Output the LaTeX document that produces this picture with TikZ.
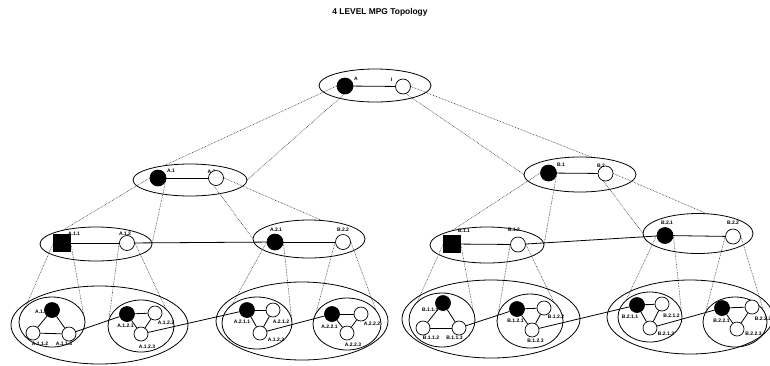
\documentclass[tikz,border=0pt]{standalone}
\usepackage{fontspec}
\setmainfont{Liberation Sans}
\usetikzlibrary{shapes.geometric}
\pgfdeclarelayer{dA}
\pgfdeclarelayer{fB}
\pgfdeclarelayer{dB}
\pgfdeclarelayer{fC}
\pgfdeclarelayer{dC}
\pgfdeclarelayer{fD}
\pgfsetlayers{dA,fB,dB,fC,dC,fD,main}
\tikzset{
  grp/.style={ellipse, draw, line width=0.8pt, inner sep=0pt, outer sep=0pt},
  grpf/.style={grp, fill=white},
  bnL/.style={circle, draw, fill=black, line width=0.7pt, inner sep=0pt, minimum size=16pt},
  wnL/.style={circle, draw, fill=white, line width=0.7pt, inner sep=0pt, minimum size=15pt},
  bn/.style={circle, draw, fill=black, line width=0.7pt, inner sep=0pt, minimum size=15pt},
  wn/.style={circle, draw, fill=white, line width=0.7pt, inner sep=0pt, minimum size=14pt},
  sqn/.style={rectangle, draw, fill=black, inner sep=0pt, minimum size=17pt},
  lbl/.style={font=\fontsize{5}{5}\selectfont\bfseries, inner sep=0pt},
  cone/.style={draw=black!75, line width=0.6pt, dash pattern=on 0.7pt off 0.9pt},
  link/.style={draw, line width=0.8pt},
}
\begin{document}
\begin{tikzpicture}[x=1pt,y=-1pt]
\useasboundingbox (0,0) rectangle (770,365);
\node[font=\fontsize{8.4}{10}\selectfont\bfseries] (title) at (380,12) {4 LEVEL MPG Topology};

% ---------- level 1
\node[grp, minimum width=112pt, minimum height=33pt] (E1) at (375,85.5) {};
\node[lbl] (lA) at (356,79) {A};
\node[lbl] (lI) at (391.5,80) {I};
\node[bnL] (nA) at (345,86) {};
\node[wnL] (nB) at (403,86.5) {};
\draw[link] (nA) -- (nB);

% ---------- level 2
\begin{pgfonlayer}{fB}
\node[grpf, minimum width=114pt, minimum height=32pt] (E2A) at (190,180) {};
\node[grpf, minimum width=112pt, minimum height=35pt] (E2B) at (580,174.5) {};
\end{pgfonlayer}
\begin{pgfonlayer}{dA}
\draw[cone] (nA.west) -- (E2A.west);
\draw[cone] (nA.east) -- (E2A.east);
\draw[cone] (nB.west) -- (E2B.west);
\draw[cone] (nB.east) -- (E2B.east);
\end{pgfonlayer}
\node[lbl] (lA1) at (171,171) {A.1};
\node[lbl] (lA2) at (211.5,171.5) {A.2};
\node[lbl] (lB1) at (561,165) {B.1};
\node[lbl] (lB2) at (601,165.5) {B.2};
\node[bnL] (nA1) at (158,178) {};
\node[wnL] (nA2) at (216,178) {};
\node[bnL] (nB1) at (548.5,173) {};
\node[wnL] (nB2) at (605.5,173.5) {};
\draw[link] (nA1) -- (nA2);
\draw[link] (nB1) -- (nB2);

% ---------- level 3
\begin{pgfonlayer}{fC}
\node[grpf, minimum width=112pt, minimum height=34pt] (E3A1) at (96,244) {};
\node[grpf, minimum width=112pt, minimum height=38pt] (E3A2) at (309,239) {};
\node[grpf, minimum width=114pt, minimum height=36pt] (E3B1) at (487,245) {};
\node[grpf, minimum width=110pt, minimum height=40pt] (E3B2) at (698,233.5) {};
\end{pgfonlayer}
\begin{pgfonlayer}{dB}
\draw[cone] (nA1.west) -- (E3A1.west);
\draw[cone] (nA1.east) -- (E3A1.east);
\draw[cone] (nA2.west) -- (E3A2.west);
\draw[cone] (nA2.east) -- (E3A2.east);
\draw[cone] (nB1.west) -- (E3B1.west);
\draw[cone] (nB1.east) -- (E3B1.east);
\draw[cone] (nB2.west) -- (E3B2.west);
\draw[cone] (nB2.east) -- (E3B2.east);
\end{pgfonlayer}
\node[lbl] (lA11) at (74,234) {A.1.1};
\node[lbl] (lA12) at (125,234) {A.1.2};
\node[lbl] (lA21) at (276,229.5) {A.2.1};
\node[lbl] (lA22) at (343,229.5) {B.2.2};
\node[lbl] (lB11) at (464,231) {B.1.1};
\node[lbl] (lB12) at (514,230) {B.1.2};
\node[lbl] (lB21) at (667,222.5) {B.2.1};
\node[lbl] (lB22) at (733,223) {B.2.2};
\node[sqn] (nA11) at (62,243) {};
\node[wnL] (nA12) at (127,243) {};
\node[bnL] (nA21) at (275,242) {};
\node[wnL] (nA22) at (343,242) {};
\node[sqn] (nB11) at (452,244) {};
\node[wnL] (nB12) at (518,244.5) {};
\node[bnL] (nB21) at (665,235.5) {};
\node[wnL] (nB22) at (733,236.5) {};
\draw[link] (nA11) -- (nA12);
\draw[link] (nA12) -- (nA21);
\draw[link] (nA21) -- (nA22);
\draw[link] (nB11) -- (nB12);
\draw[link] (nB12) -- (nB21);
\draw[link] (nB21) -- (nB22);

% ---------- level 4 outer groups
\node[grp, minimum width=177pt, minimum height=78pt] (GA1) at (99.5,325) {};
\node[grp, minimum width=172pt, minimum height=78pt] (GA2) at (302,321) {};
\node[grp, minimum width=178pt, minimum height=78pt] (GB1) at (491,319) {};
\node[grp, minimum width=166pt, minimum height=74pt] (GB2) at (690,317) {};

% ---------- level 4 inner groups
\begin{pgfonlayer}{fD}
\node[grpf, minimum width=66pt, minimum height=50pt] (I11) at (52,322) {};
\node[grpf, minimum width=66pt, minimum height=52pt] (I12) at (141,326) {};
\node[grpf, minimum width=70pt, minimum height=52pt] (I21) at (257,323) {};
\node[grpf, minimum width=68pt, minimum height=52pt] (I22) at (347,324) {};
\node[grpf, minimum width=66pt, minimum height=54pt] (J11) at (442,320) {};
\node[grpf, minimum width=66pt, minimum height=54pt] (J12) at (530,321) {};
\node[grpf, minimum width=64pt, minimum height=50pt] (J21) at (650,317) {};
\node[grpf, minimum width=64pt, minimum height=50pt] (J22) at (735,322) {};
\end{pgfonlayer}
\begin{pgfonlayer}{dC}
\draw[cone] (nA11.west) -- (I11.west);
\draw[cone] (nA11.east) -- (I11.east);
\draw[cone] (nA12.west) -- (I12.west);
\draw[cone] (nA12.east) -- (I12.east);
\draw[cone] (nA21.west) -- (I21.west);
\draw[cone] (nA21.east) -- (I21.east);
\draw[cone] (nA22.west) -- (I22.west);
\draw[cone] (nA22.east) -- (I22.east);
\draw[cone] (nB11.west) -- (J11.west);
\draw[cone] (nB11.east) -- (J11.east);
\draw[cone] (nB12.west) -- (J12.west);
\draw[cone] (nB12.east) -- (J12.east);
\draw[cone] (nB21.west) -- (J21.west);
\draw[cone] (nB21.east) -- (J21.east);
\draw[cone] (nB22.west) -- (J22.west);
\draw[cone] (nB22.east) -- (J22.east);
\end{pgfonlayer}

% labels level 4
\node[lbl, anchor=west] (l1111) at (35,312) {A.1.1.1};
\node[lbl] (l1112) at (40,344) {A.1.1.2};
\node[lbl] (l1113) at (64,344) {A.1.1.3};
\node[lbl] (l1121) at (125.5,326) {A.1.2.1};
\node[lbl] (l1122) at (166,323) {A.1.2.2};
\node[lbl] (l1123) at (147,347) {A.1.2.3};
\node[lbl] (l1211) at (242,322) {A.2.1.1};
\node[lbl] (l1212) at (281,322) {A.2.1.2};
\node[lbl] (l1213) at (276,340) {A.1.2.3};
\node[lbl] (l1221) at (329.5,327) {A.2.2.1};
\node[lbl] (l1222) at (372,324) {A.2.2.2};
\node[lbl] (l1223) at (353,345) {A.2.2.3};
\node[lbl, anchor=west] (l2111) at (422,310) {B.1.1.1};
\node[lbl] (l2112) at (431,338) {B.1.1.2};
\node[lbl] (l2113) at (454.5,338) {B.1.1.3};
\node[lbl] (l2121) at (515.5,321) {B.1.2.1};
\node[lbl] (l2122) at (556,317) {B.1.2.2};
\node[lbl] (l2123) at (535.5,341) {B.1.2.3};
\node[lbl] (l2211) at (630,317) {B.2.1.1};
\node[lbl] (l2212) at (671.5,316) {B.2.1.2};
\node[lbl] (l2213) at (666,334) {B.2.1.3};
\node[lbl] (l2221) at (721.5,321) {B.2.2.1};
\node[lbl] (l2222) at (763,319) {B.2.2.2};
\node[lbl] (l2223) at (753.5,334) {B.2.2.3};

% nodes level 4
\node[bn] (a111) at (52,310) {};
\node[wn] (a112) at (33,333) {};
\node[wn] (a113) at (69,334) {};
\node[bn] (a121) at (127,314) {};
\node[wn] (a122) at (155,313) {};
\node[wn] (a123) at (141,334) {};
\node[bn] (a211) at (247,310) {};
\node[wn] (a212) at (273,310) {};
\node[wn] (a213) at (260,333) {};
\node[bn] (a221) at (332,314) {};
\node[wn] (a222) at (361,314) {};
\node[wn] (a223) at (347,333) {};
\node[bn] (b111) at (443,303) {};
\node[wn] (b112) at (423,328) {};
\node[wn] (b113) at (459,328) {};
\node[bn] (b121) at (517,309) {};
\node[wn] (b122) at (544,308) {};
\node[wn] (b123) at (532,330) {};
\node[bn] (b211) at (637,305) {};
\node[wn] (b212) at (662,304) {};
\node[wn] (b213) at (650,328) {};
\node[bn] (b221) at (722,308) {};
\node[wn] (b222) at (752,307) {};
\node[wn] (b223) at (737,329) {};

% triangles
\foreach \g in {a11,a12,a21,a22,b11,b12,b21,b22}{
  \draw[link] (\g1) -- (\g2);
  \draw[link] (\g1) -- (\g3);
  \draw[link] (\g2) -- (\g3);
}
% inter-group links
\draw[link] (a113) -- (a121);
\draw[link] (a123) -- (a211);
\draw[link] (a213) -- (a221);
\draw[link] (b113) -- (b121);
\draw[link] (b123) -- (b211);
\draw[link] (b213) -- (b221);
\end{tikzpicture}
\end{document}
